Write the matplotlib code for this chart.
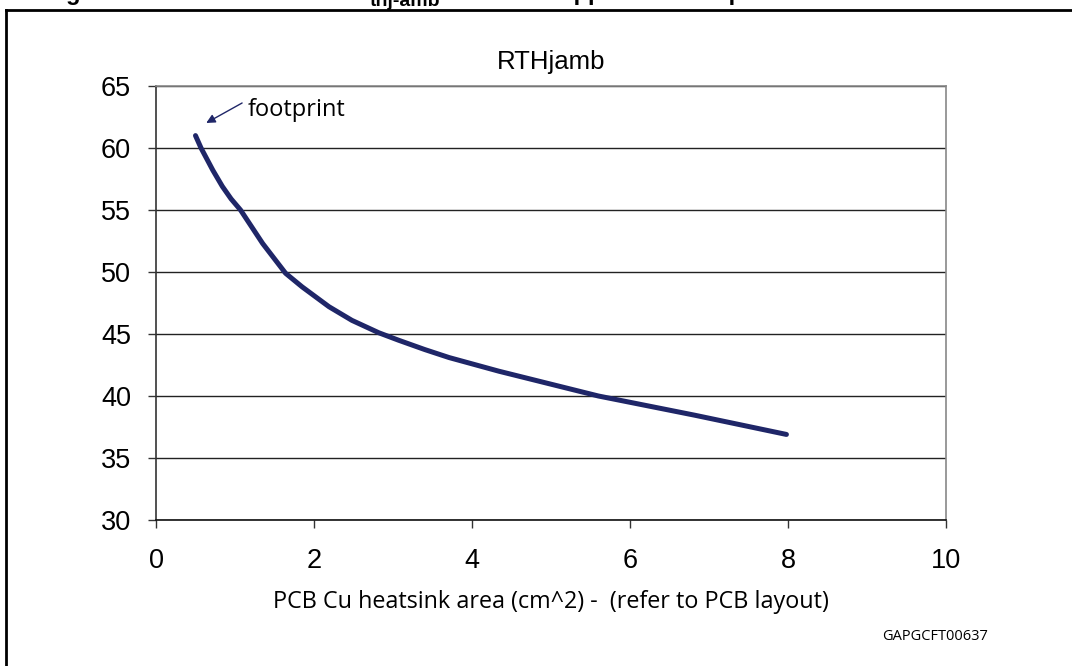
import matplotlib.pyplot as plt
from matplotlib.lines import Line2D

# RTHjamb vs PCB copper area
area = [0.5, 0.57, 0.72, 0.84, 0.95, 1.07, 1.35, 1.64, 1.85, 2.19, 2.48,
        2.82, 3.07, 3.4, 3.71, 4.34, 4.97, 5.6, 6.23, 6.82, 7.98]
rth = [61.0, 60.0, 58.2, 56.9, 55.9, 55.0, 52.3, 49.9, 48.8, 47.2, 46.1,
       45.1, 44.5, 43.75, 43.1, 42.0, 41.0, 40.0, 39.2, 38.45, 36.9]

xticks = [0, 2, 4, 6, 8, 10]
yticks = [30, 35, 40, 45, 50, 55, 60, 65]

navy = "#1f2668"
arial = "Liberation Sans"
humanist = "Open Sans"

fig = plt.figure(figsize=(10.72, 6.66), dpi=100)
ax = fig.add_axes([156 / 1072, 1 - 520 / 666, 790 / 1072, 434 / 666])

ax.plot(area, rth, color=navy, linewidth=3.6, solid_capstyle="round",
        solid_joinstyle="round", zorder=3)

ax.set_xlim(0, 10)
ax.set_ylim(30, 65)
ax.set_xticks(xticks)
ax.set_yticks(yticks)
ax.set_xticklabels([str(v) for v in xticks], fontfamily=arial, fontsize=19.5)
ax.set_yticklabels([str(v) for v in yticks], fontfamily=arial, fontsize=19.5)
ax.tick_params(axis="both", direction="out", length=6, width=1, color="#333333")
ax.tick_params(axis="y", pad=12)
ax.tick_params(axis="x", pad=14)

ax.grid(axis="y", color="#222222", linewidth=1)
ax.set_axisbelow(True)
ax.spines["left"].set_color("#333333")
ax.spines["bottom"].set_color("#111111")
ax.spines["top"].set_color("#888888")
ax.spines["right"].set_color("#888888")
for s in ax.spines.values():
    s.set_linewidth(1.2)

ax.set_title("RTHjamb", fontfamily=arial, fontsize=18.5, pad=12)
ax.set_xlabel("PCB Cu heatsink area (cm^2) -  (refer to PCB layout)",
              fontfamily=humanist, fontsize=16.8, labelpad=12)

ax.annotate("", xy=(0.636, 62.02), xytext=(1.09, 63.63),
            arrowprops=dict(arrowstyle="-|>", color=navy, lw=1.0,
                            mutation_scale=13, shrinkA=0, shrinkB=0))
ax.text(1.155, 63.1, "footprint", fontfamily=humanist, fontsize=17,
        va="center", ha="left")

fig.text(935 / 1072, 1 - 636 / 666, "GAPGCFT00637", fontfamily=humanist,
         fontsize=10.5, ha="center", va="center")

# clipped caption at the very top of the page
fig.text(45 / 1072, 1.0, "Figure 12. SO-8 R", fontfamily=arial, fontsize=17,
         fontweight="bold", va="baseline", ha="left")
fig.text(370 / 1072, 1 - 6 / 666, "thj-amb", fontfamily=arial, fontsize=14,
         fontweight="bold", va="baseline", ha="left")
fig.text(450 / 1072, 1.0, "vs. PCB copper area in open box free air condition",
         fontfamily=arial, fontsize=17, fontweight="bold", va="baseline", ha="left")

# page frame around the figure
fig.add_artist(Line2D([6 / 1072, 1.0], [1 - 10 / 666, 1 - 10 / 666],
                      color="black", linewidth=2, transform=fig.transFigure))
fig.add_artist(Line2D([6 / 1072, 6 / 1072], [0.0, 1 - 10 / 666],
                      color="black", linewidth=2, transform=fig.transFigure))

fig.savefig("out.png", dpi=100)
